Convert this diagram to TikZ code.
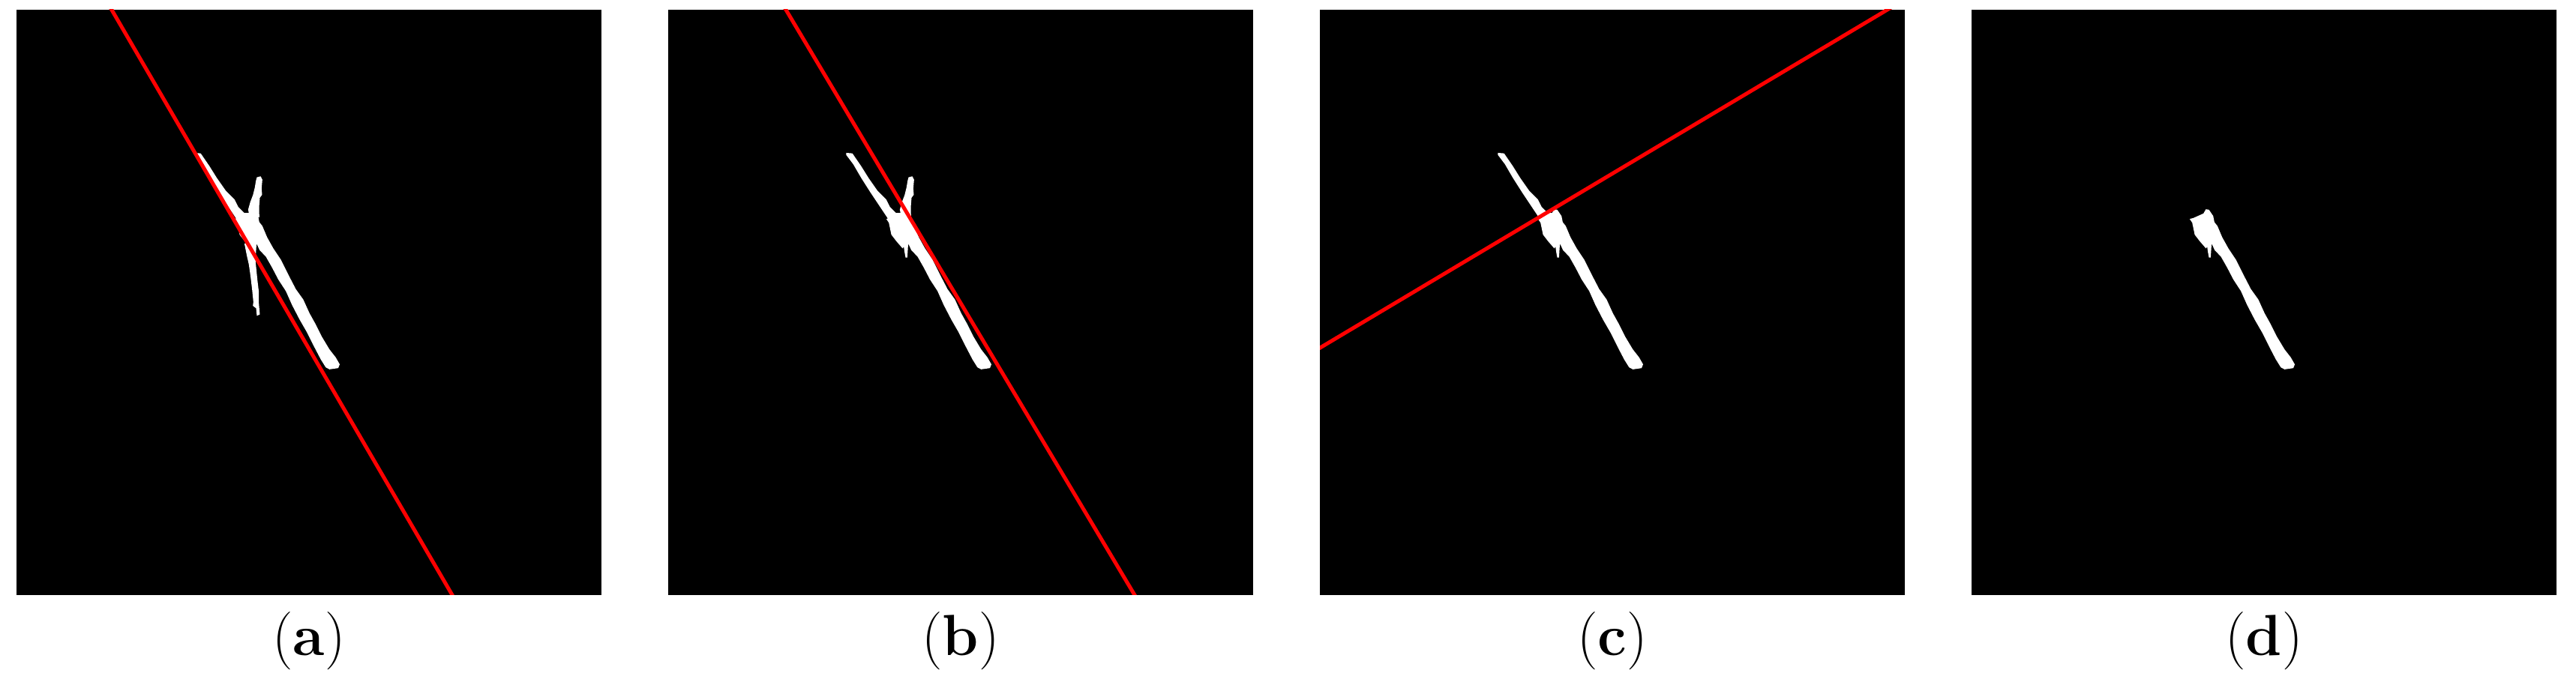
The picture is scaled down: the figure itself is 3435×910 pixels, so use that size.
\documentclass[tikz,border=0pt]{standalone}
\begin{document}
\begin{tikzpicture}[x=0.01cm,y=-0.01cm,
  panel/.style={fill=black},
  fitline/.style={draw=red,line width=0.05cm},
  blob/.style={fill=white},
  sublabel/.style={font=\fontsize{22}{26}\selectfont, anchor=base, inner sep=0pt},
  blobframe/.style={shift={(224,177)},x=0.003333cm,y=-0.003333cm},
  lowerbar/.style={insert path={(201,307) -- (216,303) -- (256,285) -- (266,268) -- (278,270) -- (295,295) -- (300,320) -- (312,335) -- (331,380) -- (356,425) -- (386,470) -- (416,530) -- (446,588) -- (476,630) -- (501,685) -- (526,730) -- (551,780) -- (581,830) -- (606,862) -- (622,890) -- (616,905) -- (581,910) -- (566,902) -- (546,870) -- (521,822) -- (491,762) -- (461,710) -- (431,652) -- (406,596) -- (376,550) -- (351,502) -- (326,458) -- (301,432) -- (291,410) -- (281,405) -- (266,425) -- (241,396) -- (221,370) -- (211,322) -- cycle}},
  upperbar/.style={insert path={(40,42) -- (65,44) -- (100,95) -- (130,143) -- (165,193) -- (200,228) -- (215,258) -- (240,283) -- (270,283) -- (278,320) -- (240,345) -- (220,345) -- (205,302) -- (175,257) -- (135,197) -- (100,142) -- (68,87) -- (40,50) -- cycle}},
  upspike/.style={insert path={(290,140) -- (305,136) -- (312,150) -- (309,185) -- (311,210) -- (302,222) -- (299,260) -- (300,300) -- (262,300) -- (255,270) -- (264,238) -- (274,212) -- (282,180) -- (286,155) -- cycle}},
  lowspike/.style={insert path={(240,405) -- (282,405) -- (282,440) -- (286,490) -- (292,550) -- (298,600) -- (298,645) -- (302,690) -- (290,695) -- (287,665) -- (274,655) -- (276,640) -- (271,590) -- (265,540) -- (258,490) -- (250,455) -- cycle}},
  stub/.style={insert path={(279,400) -- (289,400) -- (285,462) -- (278,462) -- (274,440) -- (270,412) -- cycle}}]
\useasboundingbox (0,0) rectangle (3435,910);
\fill[white] (0,0) rectangle (3435,910);

% (a)
\begin{scope}[shift={(22,13)}]
  \fill[panel] (0,0) rectangle (780,781);
  \begin{scope}[blobframe]
    \fill[blob, lowerbar];
    \fill[blob, upperbar];
    \fill[blob, upspike];
    \fill[blob, lowspike];
    \fill[blob, stub];
  \end{scope}
  \begin{scope}
    \clip (0,0) rectangle (780,781);
    \coordinate (a1) at (124,-5);
    \coordinate (a2) at (584,786);
    \draw[fitline] (a1) -- (a2);
  \end{scope}
\end{scope}
\node[sublabel] (la) at (412,875) {(\textbf{a})};

% (b)
\begin{scope}[shift={(891,13)}]
  \fill[panel] (0,0) rectangle (780,781);
  \begin{scope}[blobframe]
    \fill[blob, lowerbar];
    \fill[blob, upperbar];
    \fill[blob, upspike];
    \fill[blob, stub];
  \end{scope}
  \begin{scope}
    \clip (0,0) rectangle (780,781);
    \coordinate (b1) at (154,-5);
    \coordinate (b2) at (625,786);
    \draw[fitline] (b1) -- (b2);
  \end{scope}
\end{scope}
\node[sublabel] (lb) at (1281,875) {(\textbf{b})};

% (c)
\begin{scope}[shift={(1760,13)}]
  \fill[panel] (0,0) rectangle (780,781);
  \begin{scope}[blobframe]
    \fill[blob, lowerbar];
    \fill[blob, upperbar];
    \fill[blob, stub];
  \end{scope}
  \begin{scope}
    \clip (0,0) rectangle (780,781);
    \coordinate (c1) at (-8,456);
    \coordinate (c2) at (765,-5);
    \draw[fitline] (c1) -- (c2);
  \end{scope}
\end{scope}
\node[sublabel] (lc) at (2150,875) {(\textbf{c})};

% (d)
\begin{scope}[shift={(2629,13)}]
  \fill[panel] (0,0) rectangle (780,781);
  \begin{scope}[blobframe]
    \fill[blob, lowerbar];
    \fill[blob, stub];
  \end{scope}
\end{scope}
\node[sublabel] (ld) at (3019,875) {(\textbf{d})};
\end{tikzpicture}
\end{document}
